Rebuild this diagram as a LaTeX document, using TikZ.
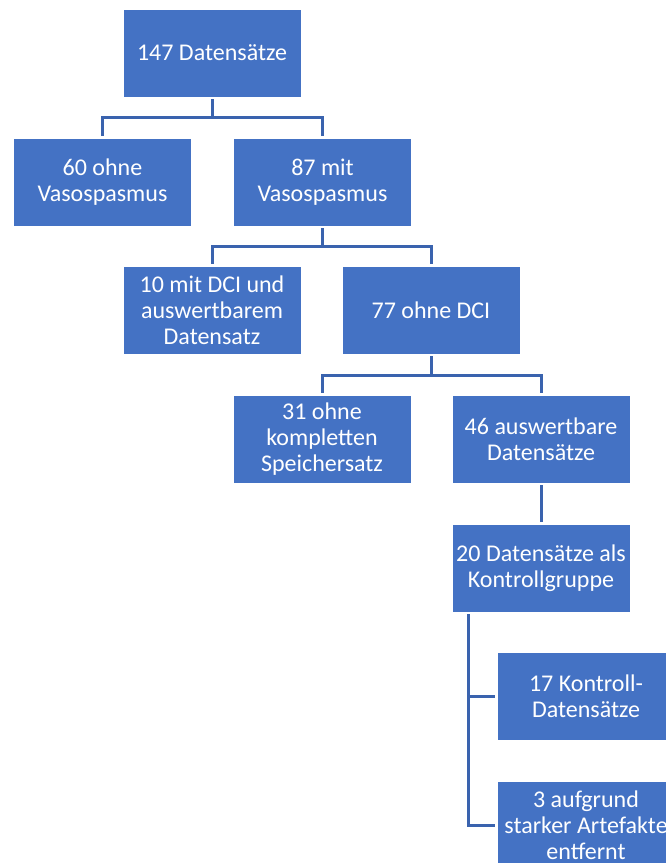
\documentclass[tikz,border=0pt]{standalone}
\usepackage{fontspec}
\setmainfont{Carlito}
\definecolor{boxblue}{HTML}{4472C4}
\definecolor{lineblue}{HTML}{3A63AE}
\tikzset{
  box/.style={rectangle, fill=boxblue, draw=white, line width=0.6pt,
    minimum width=178pt, minimum height=88pt, inner sep=0pt, outer sep=2pt,
    text=white, align=center, font=\fontsize{24}{26}\selectfont},
  conn/.style={draw=lineblue, line width=3pt}
}
\begin{document}
\begin{tikzpicture}[x=1pt,y=-1pt]
\clip (0,0) rectangle (666,863);
\node[box] (n147) at (212,53){147 Datensätze};
\node[box] (n60) at (102.5,182){60 ohne\\Vasospasmus};
\node[box] (n87) at (322.5,182){87 mit\\Vasospasmus};
\draw[conn](n147.south) -- ++(0,18) -| (n60.north);
\draw[conn](n147.south) -- ++(0,18) -| (n87.north);
\node[box] (n10) at (212,310){10 mit DCI und\\auswertbarem\\Datensatz};
\node[box] (n77) at (431,310){77 ohne DCI};
\draw[conn](n87.south) -- ++(0,18) -| (n10.north);
\draw[conn](n87.south) -- ++(0,18) -| (n77.north);
\node[box] (n31) at (322,439){31 ohne\\kompletten\\Speichersatz};
\node[box] (n46) at (541,439){46 auswertbare\\Datensätze};
\draw[conn](n77.south) -- ++(0,19) -| (n31.north);
\draw[conn](n77.south) -- ++(0,19) -| (n46.north);
\node[box] (n20) at (541,568){20 Datensätze als\\Kontrollgruppe};
\draw[conn](n46.south) -- (n20.north);
\node[box] (n17) at (586,696){17 Kontroll-\\Datensätze};
\node[box] (n3) at (586,825){3 aufgrund\\starker Artefakte\\entfernt};
\coordinate (ctrl) at ([xshift=18pt]n20.south west);
\draw[conn](ctrl) |- (n17.west);
\draw[conn](ctrl) |- (n3.west);
\end{tikzpicture}
\end{document}
